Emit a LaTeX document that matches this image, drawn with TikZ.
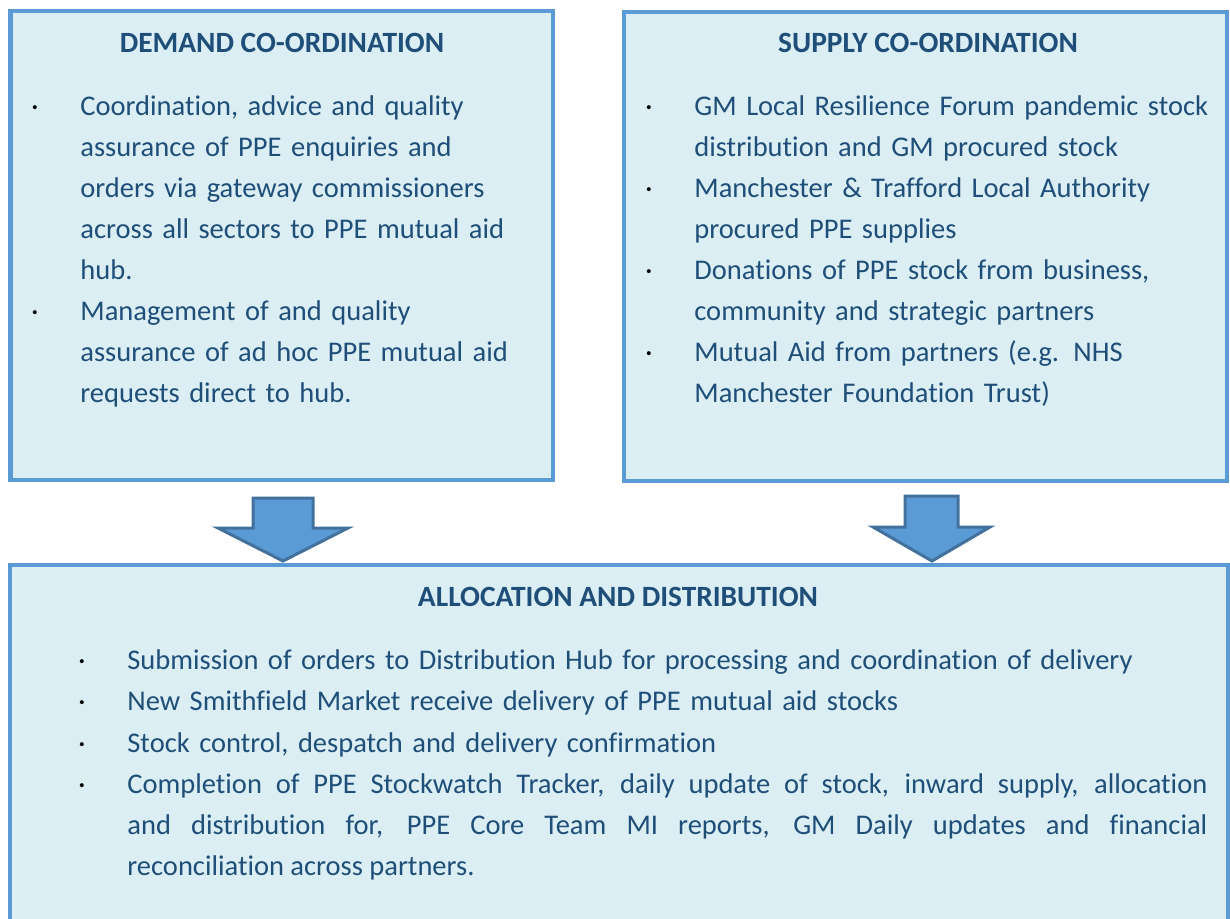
\documentclass[tikz,border=0pt]{standalone}
\usepackage{fontspec}
\setmainfont[Ligatures=NoCommon]{Carlito}
\definecolor{boxfill}{HTML}{DAEEF3}
\definecolor{boxline}{HTML}{5B9BD5}
\definecolor{txtblue}{HTML}{1F4E79}
\definecolor{arrowline}{HTML}{41719C}
\tikzset{
  panel/.style={draw=boxline, fill=boxfill, line width=2.25pt},
  heading/.style={text=txtblue, font=\fontsize{14.7}{20.5}\selectfont\bfseries, inner sep=0pt},
  item/.style={text=txtblue, font=\fontsize{14.25}{20.5}\selectfont, anchor=base west, inner sep=0pt, text width=#1, align=left},
  item/.default=240pt,
  dot/.style={anchor=base, inner sep=0pt, font=\fontsize{14}{20.5}\selectfont},
  blockarrow/.style={draw=arrowline, fill=boxline, line width=1.5pt, line join=miter}
}
\begin{document}
\begin{tikzpicture}[x=0.5pt,y=-0.5pt]
\useasboundingbox (0,0) rectangle (1230,918);
% boxes
\draw [panel] (10.5,11) rectangle (553,480);
\draw [panel] (624,12) rectangle (1227,481);
\draw [panel] (10,565) rectangle (1228,960);
% arrows
\draw [blockarrow] (253,498)--(313,498)--(313,528)--(348,528)--(283,561)--(218,528)--(253,528)--cycle;
\draw [blockarrow] (905,496)--(958,496)--(958,527)--(990,527)--(932,561)--(873,527)--(905,527)--cycle;
% demand
\node [heading] (demandtitle) at (282,43) {DEMAND CO-ORDINATION};
\node [dot] (demanddotA) at (35,115) {·};
\node [item] (demanditemA) at (80,115) {Coordination, advice and quality\\assurance of PPE enquiries and\\orders via gateway commissioners\\across all sectors to PPE mutual aid\\hub.};
\node [dot] (demanddotB) at (35,320) {·};
\node [item] (demanditemB) at (80,320) {Management of and quality\\assurance of ad hoc PPE mutual aid\\requests direct to hub.};
% supply
\node [heading] (supplytitle) at (928,43) {SUPPLY CO-ORDINATION};
\node [dot] (supplydotA) at (649,115) {·};
\node [item=270pt] (supplyitemA) at (694,115) {GM Local Resilience Forum pandemic stock\\distribution and GM procured stock};
\node [dot] (supplydotB) at (649,197) {·};
\node [item=270pt] (supplyitemB) at (694,197) {Manchester \& Trafford Local Authority\\procured PPE supplies};
\node [dot] (supplydotC) at (649,279) {·};
\node [item=270pt] (supplyitemC) at (694,279) {Donations of PPE stock from business,\\community and strategic partners};
\node [dot] (supplydotD) at (649,361) {·};
\node [item=270pt] (supplyitemD) at (694,361) {Mutual Aid from partners (e.g. NHS\\Manchester Foundation Trust)};
% allocation
\node [heading] (alloctitle) at (618,597) {ALLOCATION AND DISTRIBUTION};
\node [dot] (allocdotA) at (82,669) {·};
\node [item=540pt] (allocitemA) at (127,669) {Submission of orders to Distribution Hub for processing and coordination of delivery};
\node [dot] (allocdotB) at (82,710) {·};
\node [item=540pt] (allocitemB) at (127,710) {New Smithfield Market receive delivery of PPE mutual aid stocks};
\node [dot] (allocdotC) at (82,752) {·};
\node [item=540pt] (allocitemC) at (127,752) {Stock control, despatch and delivery confirmation};
\node [dot] (allocdotD) at (82,793) {·};
\node [item=540pt, align=justify] (allocitemD) at (127,793) {Completion of PPE Stockwatch Tracker, daily update of stock, inward supply, allocation\linebreak and distribution for, PPE Core Team MI reports, GM Daily updates and financial\linebreak reconciliation across partners.};
\end{tikzpicture}
\end{document}
